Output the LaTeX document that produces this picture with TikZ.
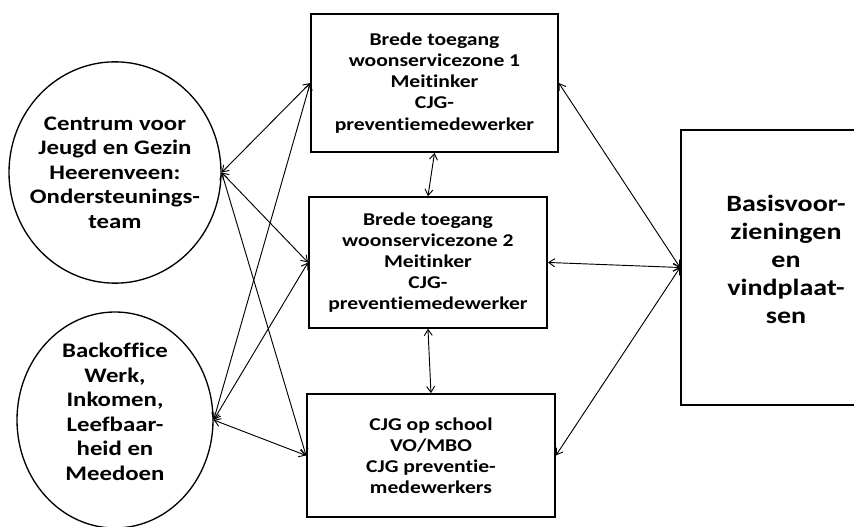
\documentclass[tikz,border=0pt]{standalone}
\usepackage{fontspec}
\newfontfamily\diagfont[FakeStretch=1.2,Ligatures=NoCommon]{Carlito}
\usetikzlibrary{arrows.meta}
\usetikzlibrary{shapes.geometric}
\tikzstyle{zone} = [rectangle, draw=black, line width=1.4pt, align=center, font=\diagfont\bfseries\fontsize{13.5}{15.8}\selectfont]
\tikzstyle{partner} = [ellipse, draw=black, line width=1pt]
\tikzstyle{partnertext} = [align=center, font=\diagfont\bfseries\fontsize{15.5}{18.4}\selectfont]
\tikzstyle{basis} = [rectangle, draw=black, line width=1.4pt]
\tikzstyle{basistext} = [align=center, font=\diagfont\bfseries\fontsize{17.5}{21}\selectfont]
\tikzstyle{arrow} = [line width=0.7pt, <->, >={Straight Barb[length=4.5pt,width=6pt]}]

\begin{document}
\begin{tikzpicture}[
            x=0.75pt, y=-0.75pt,
            every node/.style={text centered}
        ]
            \useasboundingbox (0,0) rectangle (854,527);

            % Nodes
            \node (cjg) [partner, minimum width=159pt, minimum height=166pt] at (115,172.5) {};
            \node (cjgtext) [partnertext] at (cjg.center) {Centrum voor\\Jeugd en Gezin\\Heerenveen:\\Ondersteunings-\\team};
            \node (back) [partner, minimum width=147pt, minimum height=162pt] at (115,420) {};
            \node (backtext) [partnertext, yshift=6pt] at (back.center) {Backoffice\\Werk,\\Inkomen,\\Leefbaar-\\heid en\\Meedoen};
            \node (zone1) [zone, minimum width=185pt, minimum height=103.5pt] at (434.5,83) {Brede toegang\\woonservicezone 1\\Meitinker\\CJG-\\preventiemedewerker};
            \node (zone2) [zone, minimum width=178.5pt, minimum height=98pt, node distance=134.6pt, below of=zone1, xshift=-4.9pt] {Brede toegang\\woonservicezone 2\\Meitinker\\CJG-\\preventiemedewerker};
            \node (school) [zone, minimum width=186pt, minimum height=92pt, node distance=144.75pt, below of=zone2, xshift=2.25pt] {CJG op school\\VO/MBO\\CJG preventie-\\medewerkers};
            \node (basis) [basis, minimum width=157.5pt, minimum height=206pt] at (786,267.5) {};
            \node (basistext) [basistext, yshift=6pt] at (basis.center) {Basisvoor-\\zieningen\\en\\vindplaat-\\sen};

            % Arrows
            \draw [arrow] (cjg.east) -- (zone1.west);
            \draw [arrow] (cjg.east) -- (zone2.west);
            \draw [arrow] (cjg.east) -- (school.west);
            \draw [arrow] (back.east) -- (zone1.west);
            \draw [arrow] (back.east) -- (zone2.west);
            \draw [arrow] (back.east) -- (school.west);
            \draw [arrow] (zone1.south) -- (zone2.north);
            \draw [arrow] (zone2.south) -- (school.north);
            \draw [arrow] (zone1.east) -- (basis.west);
            \draw [arrow] (zone2.east) -- (basis.west);
            \draw [arrow] (school.east) -- (basis.west);
        \end{tikzpicture}
\end{document}
